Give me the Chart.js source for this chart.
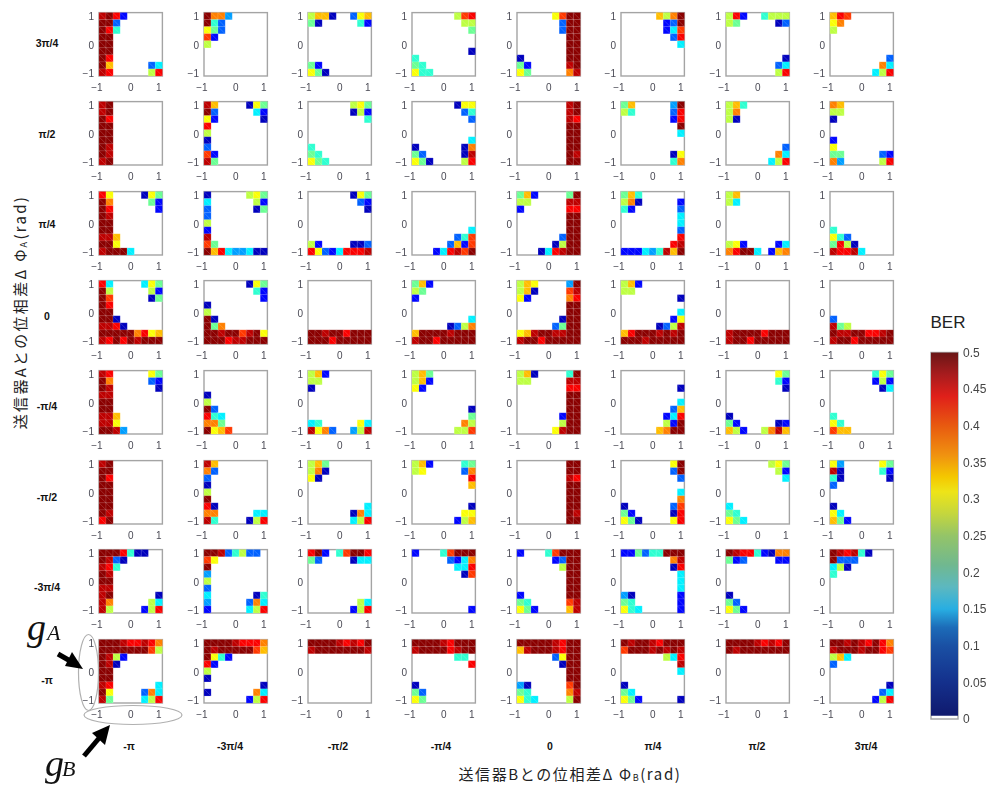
<!DOCTYPE html>
<html lang="ja">
<head>
<meta charset="utf-8">
<title>BER</title>
<script src="https://cdn.jsdelivr.net/npm/chart.js@4"></script>
<style>
body{margin:0;background:#fff;width:992px;height:787px;overflow:hidden;position:relative;font-family:"Liberation Sans",sans-serif}
canvas{position:absolute;filter:blur(0.35px)}
.lab{position:absolute;transform:translate(-50%,-50%);font-weight:bold;font-size:10.5px;color:#111;white-space:nowrap}
.title{position:absolute;transform:translate(-50%,-50%);font-family:"Noto Sans CJK JP",sans-serif;font-size:15px;color:#222;white-space:nowrap;letter-spacing:1.6px}
.title sub{font-size:9px;vertical-align:-1px}
.math{position:absolute;font-family:"Liberation Serif",serif;font-style:italic;color:#111;line-height:1}
svg{position:absolute;left:0;top:0}
</style>
</head>
<body>
<script>
// BER level of each cell letter
var berLevels={d:.03,b:.065,s:.11,u:.14,c:.18,t:.21,g:.24,l:.28,y:.31,a:.345,o:.375,e:.41,r:.44,m:.47,k:.495};

// one row of panels = 8 strings, each string = 9 rows top to bottom, '.' = empty (below scale)
var rowPi34=[
'mkrb kks krt kk kk kk kr ka.....sc mr.....lr',
'koou kts ygs eb l . . . .',
'laad..sya gd.....tb . . . . . gb ygd',
'......ler .......ll ........g . . ........d t gt ytt',
'.....yekk ......skk ......skk .......kk .......kk .......kk d......kk gb.....mk yg.....om',
'.....alok ......bsk ......bce .......sr ........c . . . .',
'lrb..tlll lg.....ds . . . . ........d .......sc .......lr',
'are yo l . . . ........s .......oc ......clr'];
var rowPi2=[
'mk mk kr kk kk kk km km mk',
'ma....dyg ks.....cb yb......d r l d s eb mg',
'......lyg ......dlb ........t . . . t gt ygt',
'......dyy .......st ........s . . ........c d......do gs.....dm ygd....lr',
'.......mk .......mk .......mr .......kk .......kk .......kk .......kk .......km .......kk',
'ga.....uk lt.....sr .......br ........k ........c . . .......dy .......to',
'lat lo ld . . . ........s .......oc ......clr',
'oa ll d . . b y gg.....sb ou.....lr'];
var rowPi4=[
'ry....dyg ko.....gb kr......b km kk kk mma kky mkkkc',
'd.....lyg c......lb s......dg s l b m eg karcuucdd',
'......dyg .......sb ........d . . . . lb....dds rysbcrrrm',
'. . . . . ........c ......ste .....sabe ...bcrmek',
'gab....gk ll.....mm b......rr .......kk .......kk .......kk ......skk .....dlkk ...dcrmkk',
'gat lod.....b tb......s ........c ........c ........s ........r .......rm bbbcutmak',
'la lc . . . . . lyb....bc orkkc.bao',
'. . . . . t yts grld mrrmc'];
var rowZero=[
'rc....cyg kl.....lb ke.....dg kr kk kkd mmrd kkkkkorya mrkrkmkkk',
'......dyg .......tb ........b d l kd kgo kkmkkemky kkkrmmkkk',
'. . . . . . . kkmkkrkkk kkkrkkkkk',
'gab lg b . . ........c .....dslo akkkkmkkk mkkrkkkkk',
'lay....uk lad....em yb.....or .......kk .......kk ......dkk .....sgkk yamkkmmkk mkkrkkkkk',
'lab ll ........d . ........c .......by .....dslm arkkkmkmk kkkmkkkkk',
'. . . . . . . mkkkkrkkk mkkrkkkkk',
'. . . . . s mgl kmmkkrrmk mkkrkkkkk'];
var rowMinusPi4=[
'mr.....yg ko.....sb km......d mm kk kk mma mmy kkmu',
'. . . d l ks rtc oog kyae',
'lab ll d . . . . ct.....yc myos..ulm',
'lag lab yb . . ........d ........g .......ol ......lle',
'lad....tk ll.....mm .......rr .......kk .......kk .......kk ......bkk ......lkk .....ymkk',
'. . ........d . ........c .......sa ......bcr ......lbk .....aokk',
'.......yg .......tb ........d . . . d gb.....db alb..loma',
'......tyg ......blb .......dc . . . t yt eaa'];
var rowMinusPi2=[
'mk kk kr kk kk kk kk km rk',
'ma os s d l k rd oo.....cc mt....dlr',
'lag lod yd . . . ........c ......doc ......clr',
'lab....tg ly.....so ........r ........a . . ........d .......yy ......bla',
'.......kk .......kk .......mr .......kk .......kk .......kk .......kk .......km .......kk',
'.......yk .......sk ........s . ........c ........o d......se gb.....dr ygd....yr',
'......lyg .......lb ........c . . . c gt ygc',
'yu.....yg md.....tb td......d s . . d yc agb'];
var rowMinus3Pi4=[
'kkkrtdd kmsd mrt km kk mm mk......d mo.....lc ml....blr',
'kkmstlss ey k u l s c......dt u.....soc b.....clr',
'rkb.tekkr gs....dcc . . . . . .......lc ......blr',
'b...tekkk .....sbco ......ccr .......de . . . . ........b',
'b...tekkk .....bskk ......lkk .......kk .......kk .......kk b......kk gt.....em ygb....am',
'bbgsttkkk .......om .......dr ........c ........c ........c ud......b gt......b ytc.....b',
'kmrrtbdoo gbs....bb . . . . d gs ygb',
'kmrmtd ksss cld t . . . . .'];
var rowMinusPi=[
'kkkmrrmro kkkkkkkel kmlb kmd kk kk mr......c ky....soc mg....clr',
'kkkkmrrro kmkkkkkea kytb rb l d ........d d......oc ......blr',
'kkkkmrmrk mkkkkkkkm . . . . . . .',
'kkkkmrkkk mkkkkrmkk ......tt ........r . . d gs yg',
'kkkkkmrkk amkkkmrkk .....sykk ......dkk .......kk .......kk ud.....ek gt.....om ytc....lk',
'kmkkmrkkk ekkkmkmkm ......lcr ........m ........c . d gc ygb.....d',
'kkkkmrmrk kmkkkkkkk . . . . . . .',
'kkmkmrkro mkkkmkkre lac s . . ........d .......sc ......blr'];
var panelRows=[rowPi34,rowPi2,rowPi4,rowZero,rowMinusPi4,rowMinusPi2,rowMinus3Pi4,rowMinusPi];

var gainValues=[-1,-.75,-.5,-.25,0,.25,.5,.75,1];
var rowLabels=['3π/4','π/2','π/4','0','-π/4','-π/2','-3π/4','-π'];
var colLabels=['-π','-3π/4','-π/2','-π/4','0','π/4','π/2','3π/4'];
var berTicks=[0,.05,.1,.15,.2,.25,.3,.35,.4,.45,.5];
// colour bar as printed (paler than the cells)
var barStops=[[.005,'#101a6e'],[.05,'#14308c'],[.1,'#1a50a4'],[.125,'#1c6cb8'],[.15,'#28aee2'],[.18,'#5cb8c0'],[.21,'#70b890'],[.25,'#94c468'],[.28,'#c4d63e'],[.31,'#eee418'],[.33,'#f4c800'],[.36,'#f09210'],[.4,'#e85a10'],[.44,'#e0201a'],[.47,'#a81c1e'],[.5,'#6a1616']];

// page layout
var colLefts=[99.3,203.7,307.7,412,517,621,725.7,830];
var rowTops=[11,100,190,279.3,369,458.7,548,637.7];
var rowLabelY=[43,134,224,316,406,497,587,680];
var colLabelX=[129,230,338,441,550,653,757,866];

function jet(v){
    var t=v/.5;
    function ch(a){return Math.round(255*Math.max(0,Math.min(1,a)));}
    return 'rgb('+ch(Math.min(4*t-1.5,4.5-4*t))+','+ch(Math.min(4*t-.5,3.5-4*t))+','+ch(Math.min(4*t+.5,2.5-4*t))+')';
}

function addCanvas(x,y,w,h){
    var c=document.createElement('canvas');
    c.width=w;c.height=h;
    c.style.left=x+'px';c.style.top=y+'px';
    c.style.width=w+'px';c.style.height=h+'px';
    document.body.appendChild(c);
    return c.getContext('2d');
}
function addText(cls,x,y,html){
    var d=document.createElement('div');
    d.className=cls;
    d.style.left=x+'px';d.style.top=y+'px';
    d.innerHTML=html;
    document.body.appendChild(d);
    return d;
}

var framePlugin={
    id:'frame',
    beforeDatasetsDraw:function(chart){
        var a=chart.chartArea,ctx=chart.ctx;
        ctx.save();
        ctx.strokeStyle='#a4a4a4';
        ctx.lineWidth=1.4;
        ctx.strokeRect(a.left,a.top,a.right-a.left,a.bottom-a.top);
        ctx.restore();
    }
};

function parsePanel(text){
    var pts=[];
    text.split(' ').forEach(function(line,r){
        for(var c=0;c<line.length;c++){
            var v=berLevels[line[c]];
            if(v!==undefined) pts.push({x:gainValues[c],y:gainValues[8-r],v:v});
        }
    });
    return pts;
}

// keep the plot area exactly where it was laid out
function fixFit(s,w,h){
    if(w) s.width=w;
    if(h) s.height=h;
    s.paddingTop=s.paddingBottom=s.paddingLeft=s.paddingRight=0;
}

function drawPanel(text,left,top){
    var pts=parsePanel(text);
    var ctx=addCanvas(left-30,top-4,99,89);
    var tickStyle={color:'#4a4a55',font:{family:'"Liberation Sans"',size:10}};
    new Chart(ctx,{
        type:'scatter',
        data:{datasets:[
            {data:pts,clip:false,pointStyle:'line',pointRotation:45,pointRadius:5.1,pointBorderWidth:.5,pointBorderColor:'rgba(255,255,255,0.35)',order:1},
            {data:pts,clip:false,pointStyle:'rect',pointRadius:5.107,pointBorderWidth:.5,pointBorderColor:'rgba(255,255,255,0.25)',
             pointBackgroundColor:function(c){return jet(c.raw.v);},order:2}
        ]},
        options:{
            responsive:false,animation:false,events:[],
            layout:{padding:{top:4,right:4,left:0,bottom:0}},
            plugins:{legend:{display:false},tooltip:{enabled:false}},
            scales:{
                x:{type:'linear',min:-1.125,max:1.125,
                   afterBuildTicks:function(s){s.ticks=[{value:-1},{value:0},{value:1}];},
                   afterFit:function(s){fixFit(s,0,20);},
                   grid:{display:false,drawTicks:false},border:{display:false},
                   ticks:Object.assign({},tickStyle,{padding:6,maxRotation:0,autoSkip:false,
                       callback:function(v){return v==-1?'\u22121    ':String(v);}})},
                y:{type:'linear',min:-1.125,max:1.125,
                   afterBuildTicks:function(s){s.ticks=[{value:-1},{value:0},{value:1}];},
                   afterFit:function(s){fixFit(s,30,0);},
                   grid:{display:false,drawTicks:false},border:{display:false},
                   ticks:Object.assign({},tickStyle,{padding:5,labelOffset:1.5,autoSkip:false,
                       callback:function(v){return v==-1?'\u22121':String(v);}})}
            }
        },
        plugins:[framePlugin]
    });
}

for(var i=0;i<8;i++){
    for(var j=0;j<8;j++){
        drawPanel(panelRows[i][j],colLefts[j],rowTops[i]);
    }
    addText('lab',47,rowLabelY[i],rowLabels[i]);
    addText('lab',colLabelX[i],746,colLabels[i]);
}

// colour bar
var barCtx=addCanvas(930,345,60,382);
new Chart(barCtx,{
    type:'bar',
    data:{labels:['BER'],datasets:[{
        data:[[.005,.5]],barPercentage:1,categoryPercentage:1,
        backgroundColor:function(c){
            var ch=c.chart,y=ch.scales.y;
            if(!ch.chartArea) return '#888';
            var g=ch.ctx.createLinearGradient(0,y.getPixelForValue(0),0,y.getPixelForValue(.5));
            barStops.forEach(function(s){g.addColorStop(s[0]/.5,s[1]);});
            return g;
        }
    }]},
    options:{
        responsive:false,animation:false,events:[],
        layout:{padding:{top:7.5,bottom:8,left:1,right:0}},
        plugins:{legend:{display:false},tooltip:{enabled:false}},
        scales:{
            x:{display:false},
            y:{position:'right',min:0,max:.5,
               afterBuildTicks:function(s){s.ticks=berTicks.map(function(v){return {value:v};});},
               afterFit:function(s){fixFit(s,32,0);},
               grid:{display:false,drawTicks:false},border:{display:false},
               ticks:{color:'#444',padding:5,labelOffset:1,font:{family:'"Liberation Sans"',size:12},autoSkip:false,
                      callback:function(v){return String(v);}}}
        }
    },
    plugins:[framePlugin]
});
addText('title',948,323,'BER').style.cssText+=';font-family:"Liberation Sans";font-size:17px;color:#222;letter-spacing:0';

// axis titles
addText('title',570,773,'送信器Bとの位相差Δ Φ<sub>B</sub>(rad)');
var yTitle=addText('title',19,312,'送信器Aとの位相差Δ Φ<sub>A</sub>(rad)');
yTitle.style.transform='translate(-50%,-50%) rotate(-90deg)';
yTitle.style.letterSpacing='2.3px';

// g_A / g_B annotation
function mathText(x,y,size,s){
    var d=addText('math',x,y,s);
    d.style.fontSize=size+'px';
}
mathText(27,608,38,'g');
mathText(47,622,22,'A');
mathText(45,744,38,'g');
mathText(62,758,22,'B');
document.body.insertAdjacentHTML('beforeend',
 '<svg width="992" height="787" fill="none">'+
 '<ellipse cx="88.5" cy="672.5" rx="10" ry="38" stroke="#b0b0b0" stroke-width="1.2"/>'+
 '<ellipse cx="133" cy="715" rx="49" ry="9.5" stroke="#b0b0b0" stroke-width="1.2"/>'+
 '<line x1="58" y1="654" x2="72" y2="662" stroke="#000" stroke-width="5"/>'+
 '<polygon points="83,669 65,666 72,652" fill="#000"/>'+
 '<line x1="84" y1="756" x2="100" y2="737" stroke="#000" stroke-width="5"/>'+
 '<polygon points="110,725 105,745 92,733" fill="#000"/>'+
 '</svg>');
</script>
</body>
</html>
